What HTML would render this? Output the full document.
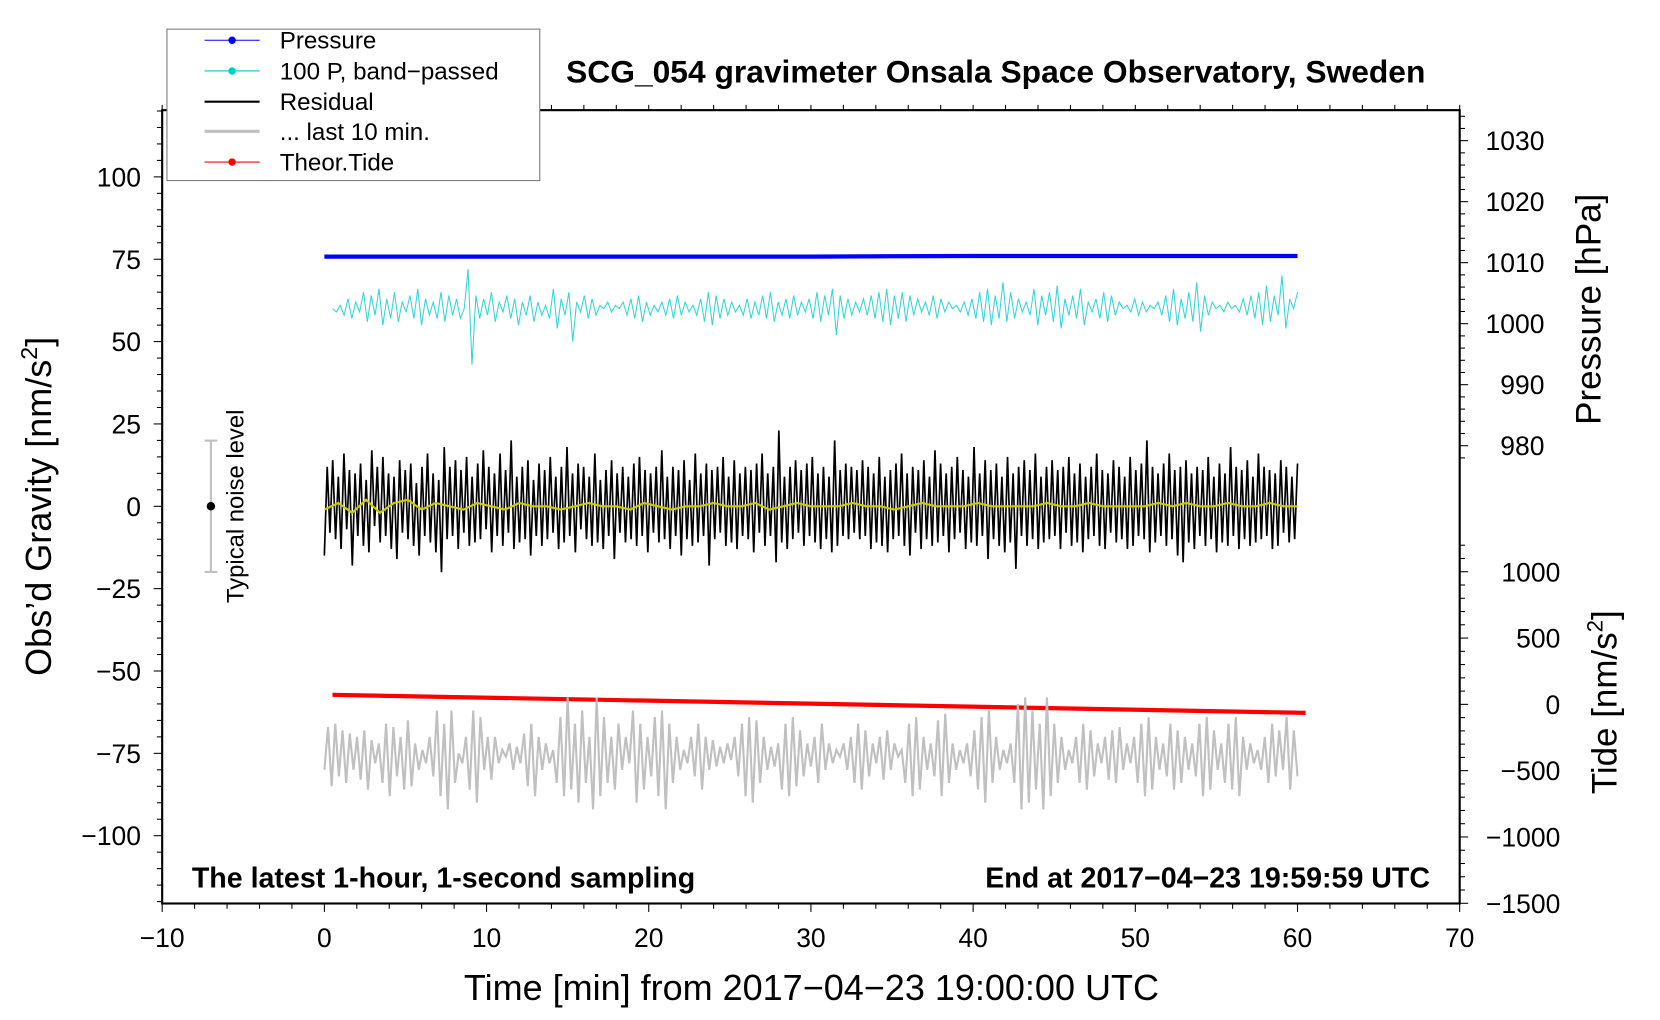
<!DOCTYPE html>
<html><head><meta charset="utf-8"><style>
html,body{margin:0;padding:0;background:#fff;}
svg{display:block;font-family:"Liberation Sans",sans-serif;}
</style></head><body>
<svg id="chart" width="1660" height="1020" viewBox="0 0 1567 963" xmlns="http://www.w3.org/2000/svg">
<rect width="1567" height="963" fill="#fff"/>
<g id="marks"></g>
<g id="axes"></g>
<text x="940" y="78" text-anchor="middle" font-size="30" font-weight="bold">SCG_054 gravimeter Onsala Space Observatory, Sweden</text>
<text x="766" y="944" text-anchor="middle" font-size="34">Time [min] from 2017−04−23 19:00:00 UTC</text>
<text transform="translate(48,478) rotate(-90)" text-anchor="middle" font-size="34">Obs’d Gravity [nm/s<tspan dy="-13" font-size="22">2</tspan><tspan dy="13">]</tspan></text>
<text transform="translate(1511,292) rotate(-90)" text-anchor="middle" font-size="33">Pressure [hPa]</text>
<text transform="translate(1526,663) rotate(-90)" text-anchor="middle" font-size="33">Tide [nm/s<tspan dy="-13" font-size="21">2</tspan><tspan dy="13">]</tspan></text>
<text x="181" y="838" font-size="27" font-weight="bold">The latest 1-hour, 1-second sampling</text>
<text x="1350" y="838" text-anchor="end" font-size="27" font-weight="bold">End at 2017−04−23 19:59:59 UTC</text>
<g>
<line x1="199" y1="416" x2="199" y2="540" stroke="#c0c0c0" stroke-width="2"/>
<line x1="193" y1="416" x2="205" y2="416" stroke="#c0c0c0" stroke-width="2"/>
<line x1="193" y1="540" x2="205" y2="540" stroke="#c0c0c0" stroke-width="2"/>
<circle cx="199" cy="478" r="4" fill="#000"/>
<text transform="translate(230,478) rotate(-90)" text-anchor="middle" font-size="22.5">Typical noise level</text>
</g>
<g>
<rect x="157.5" y="27.5" width="352" height="143" fill="#fff" stroke="#777" stroke-width="1"/>
<g><line x1="193" y1="38" x2="245" y2="38" stroke="#0000ff" stroke-width="1"/><circle cx="219" cy="38" r="3.5" fill="#0000ff"/><text x="264" y="46" font-size="22.8">Pressure</text></g>
<g><line x1="193" y1="67" x2="245" y2="67" stroke="#00cccc" stroke-width="1"/><circle cx="219" cy="67" r="3.5" fill="#00cccc"/><text x="264" y="75" font-size="22.8">100 P, band−passed</text></g>
<g><line x1="193" y1="96" x2="245" y2="96" stroke="#000" stroke-width="2"/><text x="264" y="104" font-size="22.8">Residual</text></g>
<g><line x1="193" y1="124" x2="245" y2="124" stroke="#c0c0c0" stroke-width="3"/><text x="264" y="132" font-size="22.8">... last 10 min.</text></g>
<g><line x1="193" y1="153" x2="245" y2="153" stroke="#ff0000" stroke-width="1"/><circle cx="219" cy="153" r="3.5" fill="#ff0000"/><text x="264" y="161" font-size="22.8">Theor.Tide</text></g>
</g>
</svg>
<script>
const xTicks=[-10,0,10,20,30,40,50,60,70];
const yTicks=[100,75,50,25,0,-25,-50,-75,-100];
const pTicks=[1030,1020,1010,1000,990,980];
const tideTicks=[1000,500,0,-500,-1000,-1500];
const pressureTimes=[0,10,20,30,40,50,60];
const pressureValues=[1011,1011,1011,1011,1011.1,1011.1,1011.1];
const tideTimes=[0.5,60.5];
const tideValues=[72,-64];
const residualValues=[
-15,12,-8,14,-10,9,-13,16,-7,11,-18,10,-9,13,-12,8,-14,17,-6,12,
-11,15,-9,10,-13,9,-16,14,-8,11,-10,13,-12,7,-15,12,-9,16,-11,10,
-14,8,-20,18,-10,12,-9,14,-13,11,-8,15,-12,9,-11,13,-10,17,-7,12,
-14,10,-9,16,-12,11,-8,20,-13,9,-11,12,-10,14,-15,8,-9,13,-12,11,
-10,15,-8,9,-13,12,-11,18,-9,10,-14,13,-7,12,-10,9,-12,16,-11,8,
-13,11,-9,14,-16,10,-8,12,-11,9,-10,13,-12,15,-9,11,-14,10,-8,12,
-11,17,-10,9,-13,12,-9,11,-15,14,-10,8,-12,16,-11,10,-9,13,-18,11,
-10,12,-8,15,-12,9,-11,14,-13,10,-9,12,-10,11,-14,13,-8,16,-12,10,
-9,12,-17,23,-11,9,-13,12,-10,14,-8,11,-12,13,-9,15,-11,10,-13,12,
-10,9,-14,20,-12,11,-9,13,-10,12,-8,11,-10,14,-9,12,-13,10,-11,15,
-12,9,-14,11,-10,13,-9,16,-12,10,-15,12,-8,11,-13,14,-10,9,-12,17,
-11,13,-9,10,-14,12,-10,15,-8,11,-13,9,-11,18,-12,10,-9,14,-16,11,
-10,13,-12,9,-14,15,-11,10,-19,12,-9,14,-12,11,-10,16,-13,9,-11,12,
-10,14,-9,11,-13,12,-8,15,-12,10,-11,13,-14,9,-10,12,-9,16,-12,11,
-13,10,-8,14,-11,12,-10,9,-13,15,-12,11,-9,13,-10,20,-14,12,-11,10,
-9,13,-12,16,-10,11,-15,12,-17,14,-11,10,-13,12,-9,11,-12,15,-10,9,
-14,13,-11,10,-12,18,-9,12,-13,11,-10,14,-12,9,-11,16,-10,12,-9,11,
-13,10,-12,14,-8,12,-11,9,-10,13];
const yellowValues=[-1,1,-2,2,-2,1,2,-1,1,0,-1,1,0,-1,1,0,0,-1,0,1,0,0,-1,1,0,-1,0,0,1,0,0,1,-1,0,1,0,0,0,1,0,0,-1,0,1,0,0,0,1,0,0,0,0,1,0,0,1,0,0,0,0,1,0,1,0,0,1,0,0,1,0,0];
const bandValues=[
60,59,61,58,63,57,62,59,65,56,64,58,66,55,63,57,65,56,62,59,
64,57,66,55,63,58,62,57,65,56,64,58,63,57,60,72,43,64,57,63,
58,65,56,62,59,64,57,63,55,62,58,64,56,62,58,61,57,66,54,63,
58,65,50,62,59,64,57,63,58,61,60,62,59,61,60,62,58,63,57,64,
56,62,58,61,59,62,58,63,57,64,58,62,59,61,58,63,56,65,55,64,
57,63,58,62,59,61,58,63,57,62,58,64,57,65,56,62,58,63,57,64,
58,62,59,63,57,65,56,64,58,66,52,64,57,63,58,62,59,63,58,64,
57,65,56,66,55,64,57,65,56,64,58,63,59,62,58,64,57,63,59,62,
60,61,59,62,58,63,57,65,56,66,55,64,57,68,56,65,57,63,59,62,
58,66,55,64,58,65,56,67,54,63,58,64,57,66,55,62,59,63,57,65,
56,64,58,62,60,61,59,63,58,62,59,61,60,62,58,64,56,66,55,63,
57,65,56,68,53,64,58,62,60,61,59,62,60,61,59,63,58,64,57,65,
55,67,56,64,58,70,54,63,60,65];
const lastTenValues=[
-80,-67,-85,-66,-82,-68,-84,-69,-80,-70,-83,-68,-86,-71,-78,-72,-84,-66,-88,-67,
-82,-70,-86,-65,-85,-72,-80,-74,-78,-70,-82,-62,-88,-66,-92,-62,-84,-75,-78,-70,
-86,-62,-90,-64,-80,-70,-83,-70,-78,-74,-76,-72,-80,-73,-78,-69,-85,-66,-88,-70,
-80,-72,-78,-74,-84,-64,-88,-58,-86,-66,-90,-62,-84,-70,-92,-58,-88,-64,-84,-70,
-86,-66,-80,-70,-78,-62,-90,-66,-86,-70,-82,-64,-88,-62,-92,-66,-84,-70,-80,-74,
-78,-70,-82,-66,-86,-70,-80,-71,-79,-73,-78,-72,-77,-70,-82,-66,-88,-64,-90,-65,
-84,-70,-80,-73,-79,-72,-86,-66,-88,-64,-85,-68,-82,-72,-79,-70,-84,-66,-80,-72,
-78,-74,-76,-72,-80,-70,-84,-66,-86,-68,-82,-72,-78,-70,-83,-68,-80,-72,-76,-74,
-84,-66,-88,-64,-86,-70,-80,-72,-82,-65,-88,-63,-84,-72,-80,-74,-78,-72,-82,-68,
-86,-64,-90,-62,-84,-70,-80,-74,-78,-72,-84,-60,-92,-58,-90,-62,-86,-66,-92,-58,
-88,-66,-84,-70,-80,-74,-78,-70,-84,-66,-86,-68,-82,-72,-78,-70,-83,-68,-84,-67,
-80,-72,-78,-70,-84,-66,-88,-64,-86,-70,-80,-72,-82,-66,-86,-68,-84,-70,-80,-72,
-82,-66,-88,-64,-86,-68,-80,-72,-84,-66,-86,-64,-88,-70,-80,-72,-78,-74,-80,-70,
-84,-66,-82,-68,-80,-64,-86,-68,-82];
const NS="http://www.w3.org/2000/svg";
const X0=153,X1=1378,Y0=104,Y1=853;
function xs(t){return X0+(t+10)*(X1-X0)/80;}
function ys(v){return 478-v*3.11;}
function ps(p){return 248-(p-1010)*5.76;}
function ts(v){return 665-v*0.1252;}
const marks=document.getElementById('marks'),axes=document.getElementById('axes');
function mk(tag,attrs,parent){const e=document.createElementNS(NS,tag);for(const k in attrs)e.setAttribute(k,attrs[k]);parent.appendChild(e);return e;}
function seriesPath(vals,t0,t1,yf){let d='';vals.forEach((v,i)=>{const t=t0+i*(t1-t0)/(vals.length-1);d+=(i?'L':'M')+xs(t).toFixed(1)+' '+yf(v).toFixed(1);});return d;}
let d='';pressureTimes.forEach((t,i)=>{d+=(i?'L':'M')+xs(t)+' '+ps(pressureValues[i]);});
let el=mk('path',{d:d,stroke:'#0000ff','stroke-width':4,fill:'none'},marks);


el=mk('path',{d:seriesPath(bandValues,0.5,60,ys),stroke:'#33d6d6','stroke-width':1,fill:'none'},marks);


el=mk('path',{d:seriesPath(residualValues,0,60,ys),stroke:'#000','stroke-width':1.6,fill:'none'},marks);


el=mk('path',{d:seriesPath(yellowValues,0,60,ys),stroke:'#cccc00','stroke-width':2,fill:'none'},marks);


d='';tideTimes.forEach((t,i)=>{d+=(i?'L':'M')+xs(t)+' '+ts(tideValues[i]);});
el=mk('path',{d:d,stroke:'#ff0000','stroke-width':4,fill:'none'},marks);


el=mk('path',{d:seriesPath(lastTenValues,0,60,ys),stroke:'#c0c0c0','stroke-width':2,fill:'none'},marks);


el=mk('rect',{x:X0,y:Y0,width:X1-X0,height:Y1-Y0,fill:'none',stroke:'#000','stroke-width':2},axes);


for(let t=-10;t<=70;t+=2){const x=xs(t),big=t%10===0;mk('line',{x1:x,x2:x,y1:Y1,y2:Y1+(big?8:5),stroke:'#000','stroke-width':1},axes);mk('line',{x1:x,x2:x,y1:Y0,y2:Y0-5,stroke:'#000','stroke-width':1},axes);}
xTicks.forEach(t=>{const e=mk('text',{x:xs(t),y:894,'text-anchor':'middle','font-size':25},axes);e.textContent=String(t).replace('-','−');

});
for(let v=-120;v<=120;v+=5){const y=ys(v),big=v%25===0;mk('line',{x1:X0,x2:X0-(big?8:5),y1:y,y2:y,stroke:'#000','stroke-width':1},axes);}
yTicks.forEach(v=>{const e=mk('text',{x:133,y:ys(v)+9,'text-anchor':'end','font-size':25},axes);e.textContent=String(v).replace('-','−');

});
for(let p=976;p<=1036;p+=2){const y=ps(p);if(y<Y0||y>440)continue;mk('line',{x1:X1,x2:X1+(p%10===0?8:5),y1:y,y2:y,stroke:'#000','stroke-width':1},axes);}
pTicks.forEach(p=>{const e=mk('text',{x:1458,y:ps(p)+9,'text-anchor':'end','font-size':25},axes);e.textContent=String(p);

});
for(let v=-1500;v<=1200;v+=100){const y=ts(v);if(y<480)continue;mk('line',{x1:X1,x2:X1+(v%500===0?8:5),y1:y,y2:y,stroke:'#000','stroke-width':1},axes);}
tideTicks.forEach(v=>{const e=mk('text',{x:1473,y:ts(v)+9,'text-anchor':'end','font-size':25},axes);e.textContent=String(v).replace('-','−');

});
</script>
</body></html>
